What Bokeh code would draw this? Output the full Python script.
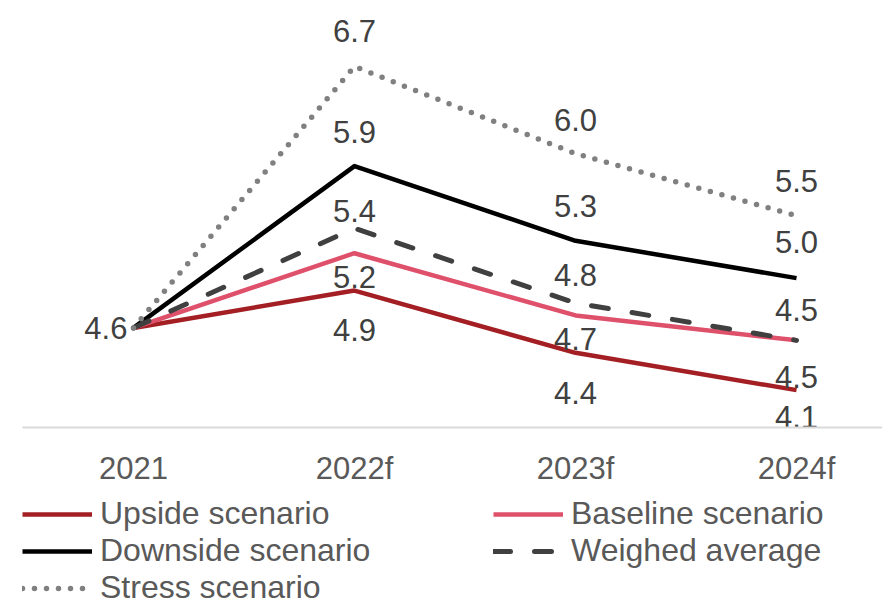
from bokeh.plotting import figure
from bokeh.layouts import column
from bokeh.models import Range1d, Legend, LegendItem, FixedTicker, ColumnDataSource
from bokeh.core.properties import value
from bokeh.embed import file_html
from bokeh.resources import INLINE

# Forecast periods and scenario paths
years = ["2021", "2022f", "2023f", "2024f"]
upside = [4.6, 4.9, 4.4, 4.1]
baseline = [4.6, 5.2, 4.7, 4.5]
downside = [4.6, 5.9, 5.3, 5.0]
weighted = [4.6, 5.4, 4.8, 4.5]
stress = [4.6, 6.7, 6.0, 5.5]

FONT = value("Liberation Sans")
LABEL_COLOR = "#404040"
AXIS_TEXT = "#595959"

x = list(range(len(years)))

chart = figure(
    frame_width=860, frame_height=427,
    x_range=Range1d(-0.502, 3.389), y_range=Range1d(3.8, 7.23),
    y_axis_location=None,
    output_backend="svg", toolbar_location=None,
    min_border_left=22, min_border_right=0, min_border_top=0, min_border_bottom=68,
)
chart.outline_line_color = None
chart.xgrid.visible = False
chart.ygrid.visible = False

# Series styles
series = [
    ("Upside scenario", upside, dict(line_color="#A31F24", line_width=4.5)),
    ("Baseline scenario", baseline, dict(line_color="#DF506B", line_width=4.5)),
    ("Downside scenario", downside, dict(line_color="#000000", line_width=4.5)),
    ("Weighed average", weighted, dict(line_color="#404040", line_width=5, line_dash="17 24", line_cap="round")),
    ("Stress scenario", stress, dict(line_color="#808080", line_width=5.5, line_dash="0 12", line_cap="round")),
]

# Pixel offsets of the value labels (negative = above the point)
label_offsets = {
    "Upside scenario": [39, 40, 27],
    "Baseline scenario": [24, 24, 37],
    "Downside scenario": [-34, -35, -36],
    "Weighed average": [-17, -28, -30],
    "Stress scenario": [-35, -34, -35],
}

for name, vals, style in series:
    chart.line(x, vals, line_join="round", **style)

# Value labels for the forecast years
for name, vals, style in series:
    src = ColumnDataSource(dict(
        x=x[1:], y=vals[1:], t=[f"{v:.1f}" for v in vals[1:]],
        dy=label_offsets[name],
    ))
    chart.text("x", "y", text="t", y_offset="dy", source=src,
               text_font=FONT, text_font_size="31px", text_color=LABEL_COLOR,
               text_align="center", text_baseline="middle")

# Shared starting value
chart.text([x[0]], [upside[0]], text=[f"{upside[0]:.1f}"], x_offset=-6,
           text_font=FONT, text_font_size="31px", text_color=LABEL_COLOR,
           text_align="right", text_baseline="middle")

ax = chart.xaxis[0]
ax.ticker = FixedTicker(ticks=x)
ax.major_label_overrides = {i: y for i, y in enumerate(years)}
ax.axis_line_color = "#d9d9d9"
ax.axis_line_width = 2
ax.major_tick_line_color = None
ax.minor_tick_line_color = None
ax.major_label_text_font = "Liberation Sans"
ax.major_label_text_font_size = "31px"
ax.major_label_text_color = AXIS_TEXT
ax.major_label_standoff = 17

# Legend strip under the chart: a two-column key with the same line styles.
# Its y-range lies below the data, so the series lines only show in the key.
key = figure(
    width=882, height=107,
    x_range=Range1d(-0.502, 3.389), y_range=Range1d(-2, -1),
    x_axis_location=None, y_axis_location=None,
    output_backend="svg", toolbar_location=None,
    min_border_left=22, min_border_right=0, min_border_top=0, min_border_bottom=0,
)
key.outline_line_color = None
key.xgrid.visible = False
key.ygrid.visible = False

items = []
for name, vals, style in series:
    r = key.line(x, vals, line_join="round", **style)
    items.append(LegendItem(label=name, renderers=[r]))

legend = Legend(
    items=items,
    orientation="horizontal", ncols=2,
    location="top_left",
    label_text_font="Liberation Sans", label_text_font_size="32px",
    label_text_color=AXIS_TEXT,
    glyph_width=70, glyph_height=20, label_standoff=8, label_width=393,
    spacing=0, padding=0, margin=0,
    border_line_color=None, background_fill_alpha=0,
)
key.add_layout(legend, "center")

p = column(chart, key, spacing=0)

open("out.html", "w").write(file_html(p, INLINE))
